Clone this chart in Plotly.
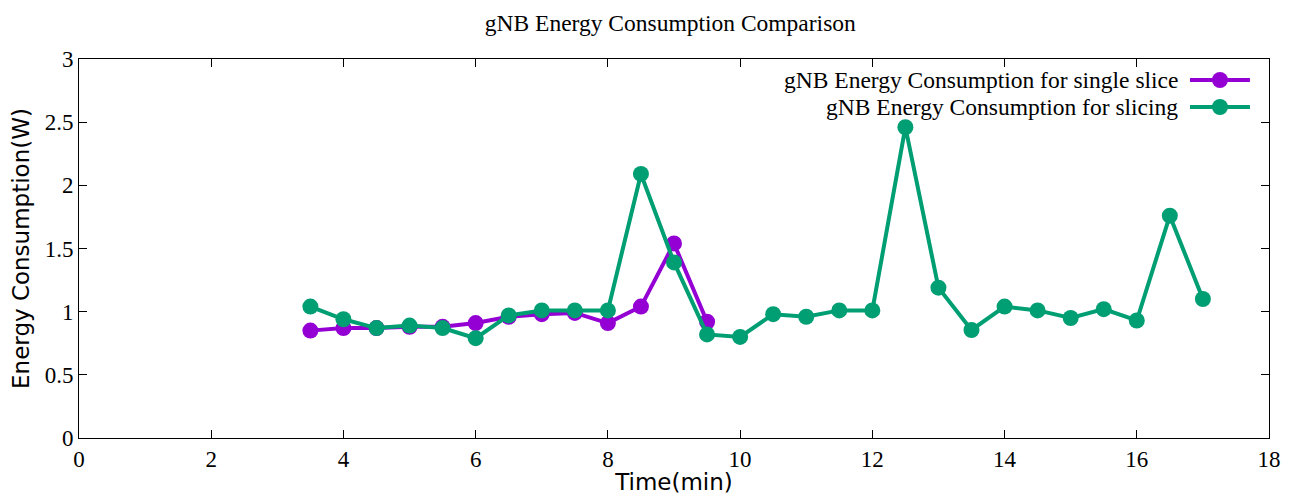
import plotly.graph_objects as go

title = "gNB Energy Consumption Comparison"
x_single = [3.5, 4, 4.5, 5, 5.5, 6, 6.5, 7, 7.5, 8, 8.5, 9, 9.5]
y_single = [0.85, 0.87, 0.87, 0.88, 0.88, 0.91, 0.96, 0.98, 0.99, 0.91, 1.04, 1.54, 0.92]
x_slicing = [3.5, 4, 4.5, 5, 5.5, 6, 6.5, 7, 7.5, 8, 8.5, 9, 9.5, 10, 10.5, 11, 11.5, 12,
             12.5, 13, 13.5, 14, 14.5, 15, 15.5, 16, 16.5, 17]
y_slicing = [1.04, 0.94, 0.87, 0.89, 0.87, 0.79, 0.97, 1.01, 1.01, 1.01, 2.09, 1.39, 0.82, 0.80,
             0.98, 0.96, 1.01, 1.01, 2.46, 1.19, 0.855, 1.04, 1.01, 0.95, 1.02, 0.93, 1.76, 1.10]
names = ["gNB Energy Consumption for single slice", "gNB Energy Consumption for slicing"]
colors = ["#9400D3", "#009E73"]
x_ticks = [0, 2, 4, 6, 8, 10, 12, 14, 16, 18]
y_ticks = [0, 0.5, 1, 1.5, 2, 2.5, 3]
y_tick_text = ["0", "0.5", "1", "1.5", "2", "2.5", "3"]

serif = "Liberation Serif"
sans = "DejaVu Sans"

fig = go.Figure()
for xs, ys, nm, c in [(x_single, y_single, names[0], colors[0]),
                      (x_slicing, y_slicing, names[1], colors[1])]:
    fig.add_trace(go.Scatter(x=xs, y=ys, name=nm, mode="lines+markers",
                             line=dict(color=c, width=4),
                             marker=dict(color=c, size=16), showlegend=False))

axis_common = dict(showline=True, linecolor="black", linewidth=1, mirror="allticks",
                   ticks="inside", ticklen=8, tickcolor="black", showgrid=False,
                   zeroline=False, automargin=False,
                   tickfont=dict(family=serif, size=23, color="black"))
fig.update_xaxes(range=[0, 18], tickvals=x_ticks, **axis_common,
                 title=dict(text="Time(min)", font=dict(family=sans, size=23, color="black"),
                            standoff=6))
fig.update_yaxes(range=[0, 3], tickvals=y_ticks, ticktext=y_tick_text, **axis_common,
                 title=dict(text="Energy Consumption(W)",
                            font=dict(family=sans, size=23, color="black"), standoff=8))

# legend drawn manually (text left of sample, gnuplot style)
leg_y = [0.9446, 0.8734]
for nm, c, ly in zip(names, colors, leg_y):
    fig.add_annotation(xref="paper", yref="paper", x=0.925, y=ly, text=nm, showarrow=False,
                       xanchor="right", yanchor="middle",
                       font=dict(family=serif, size=23.5, color="black"))
    fig.add_shape(type="line", xref="paper", yref="paper", x0=0.9336, x1=0.984, y0=ly, y1=ly,
                  line=dict(color=c, width=4))
    fig.add_shape(type="circle", xref="paper", yref="paper", xsizemode="pixel",
                  ysizemode="pixel", xanchor=0.9588, yanchor=ly, x0=-8, x1=8, y0=-8, y1=8,
                  fillcolor=c, line=dict(color=c, width=0))

fig.update_layout(
    width=1294, height=495,
    margin=dict(l=79, r=25, t=59, b=57),
    paper_bgcolor="white", plot_bgcolor="white",
    title=dict(text=title, x=0.518, xanchor="center", y=0.955, yanchor="middle",
               font=dict(family=serif, size=23.5, color="black")),
)
fig.write_html("out.html")
